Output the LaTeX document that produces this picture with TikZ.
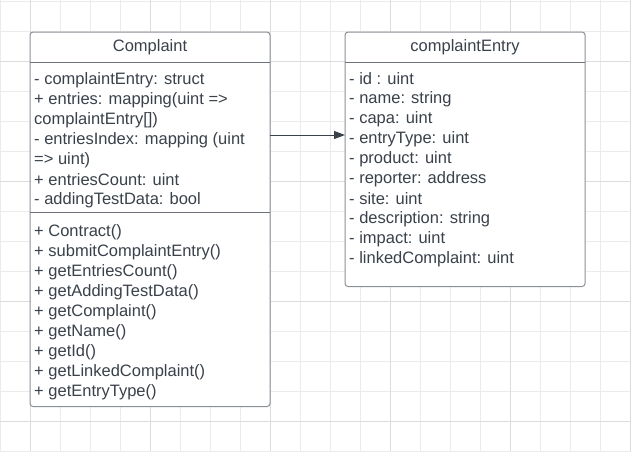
\documentclass[tikz,border=0pt]{standalone}
\usepackage{fontspec}
\setmainfont{Liberation Sans}
\usetikzlibrary{arrows.meta}
\definecolor{gridlight}{HTML}{EBEBEB}
\definecolor{griddark}{HTML}{DCDCDC}
\definecolor{boxline}{HTML}{8C9097}
\definecolor{sepline}{HTML}{6E737A}
\definecolor{txt}{HTML}{3A414A}
\tikzset{
  umlbox/.style={draw=boxline, line width=1pt, rounded corners=3pt, fill=white},
  sepl/.style={draw=sepline, line width=1pt},
  item/.style={anchor=west, inner sep=0pt, yshift=-1.8pt, text=txt, font=\fontsize{16.5}{20}\selectfont},
  title/.style={anchor=center, inner sep=0pt, yshift=-1.5pt, text=txt, font=\fontsize{16.5}{20}\selectfont},
  conn/.style={draw=txt, line width=1pt, -{Triangle[length=11pt,width=8pt]}},
}
\begin{document}
\begin{tikzpicture}[x=1pt,y=-1pt]
\useasboundingbox (0,0) rectangle (631,451);
\fill[white] (0,0) rectangle (631,451);
% grid
\foreach \i in {0,...,21} {
  \draw[gridlight, line width=1pt] (\i*30+0.7,0) -- (\i*30+0.7,451);
}
\foreach \j in {0,...,15} {
  \draw[gridlight, line width=1pt] (0,\j*30+1.7) -- (631,\j*30+1.7);
}
\foreach \i in {0,...,5} {
  \draw[griddark, line width=1pt] (\i*120+30.7,0) -- (\i*120+30.7,451);
}
\foreach \j in {0,...,3} {
  \draw[griddark, line width=1pt] (0,\j*120+61.7) -- (631,\j*120+61.7);
}
% Complaint box
\path[umlbox] (30,32) rectangle (270,406.5);
\node[coordinate] (cbox) at (270,135) {};
\draw[sepl] (30,62) -- (270,62);
\draw[sepl] (30,212) -- (270,212);
\node[title] (ct) at (150,46) {Complaint};
\node[item] (c1) at (34,78) {- complaintEntry: struct};
\node[item] (c2) at (34,98) {+ entries: mapping(uint =>};
\node[item] (c3) at (34,118) {complaintEntry[])};
\node[item] (c4) at (34,138) {- entriesIndex: mapping (uint};
\node[item] (c5) at (34,158) {=> uint)};
\node[item] (c6) at (34,178) {+ entriesCount: uint};
\node[item] (c7) at (34,198) {- addingTestData: bool};
\node[item] (m1) at (34,230) {+ Contract()};
\node[item] (m2) at (34,250) {+ submitComplaintEntry()};
\node[item] (m3) at (34,270) {+ getEntriesCount()};
\node[item] (m4) at (34,290) {+ getAddingTestData()};
\node[item] (m5) at (34,310) {+ getComplaint()};
\node[item] (m6) at (34,330) {+ getName()};
\node[item] (m7) at (34,350) {+ getId()};
\node[item] (m8) at (34,370) {+ getLinkedComplaint()};
\node[item] (m9) at (34,390) {+ getEntryType()};
% complaintEntry box
\path[umlbox] (345,32) rectangle (585,286.5);
\node[coordinate] (ebox) at (345,135) {};
\draw[sepl] (345,62) -- (585,62);
\node[title] (et) at (465,46) {complaintEntry};
\node[item] (e1) at (349,77) {- id : uint};
\node[item] (e2) at (349,97) {- name: string};
\node[item] (e3) at (349,117) {- capa: uint};
\node[item] (e4) at (349,137) {- entryType: uint};
\node[item] (e5) at (349,157) {- product: uint};
\node[item] (e6) at (349,177) {- reporter: address};
\node[item] (e7) at (349,197) {- site: uint};
\node[item] (e8) at (349,217) {- description: string};
\node[item] (e9) at (349,237) {- impact: uint};
\node[item] (e10) at (349,257) {- linkedComplaint: uint};
% connector
\draw[conn] (cbox) -- (ebox);
\end{tikzpicture}
\end{document}
